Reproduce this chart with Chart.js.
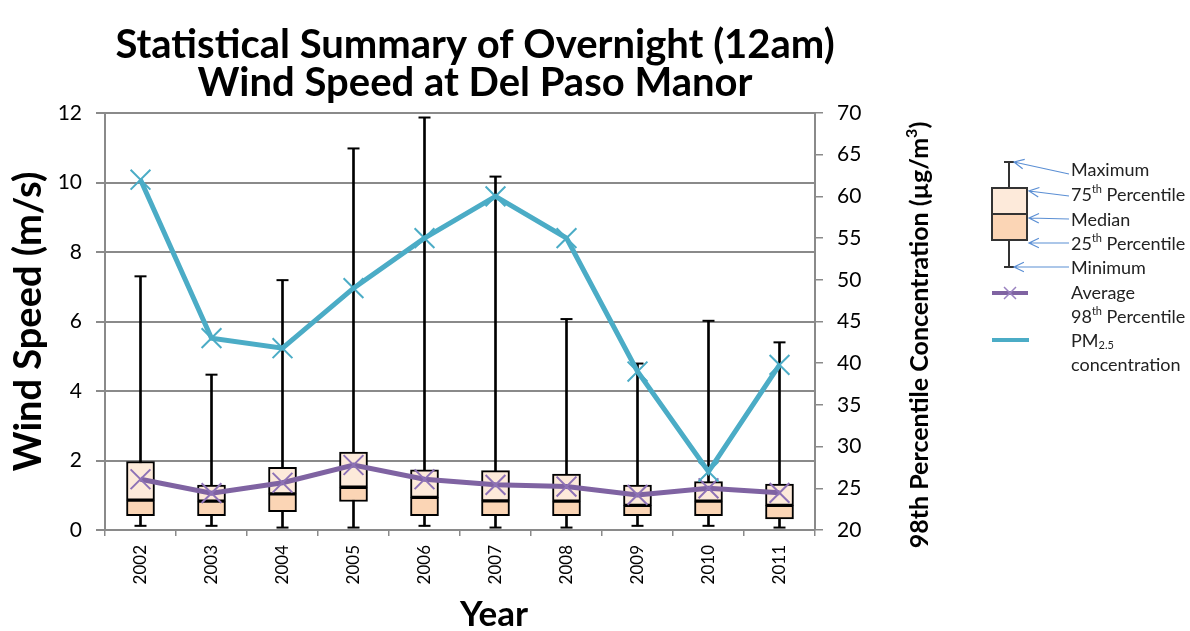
<!DOCTYPE html>
<html>
<head>
<meta charset="utf-8">
<title>Overnight Wind Speed at Del Paso Manor</title>
<script src="https://cdn.jsdelivr.net/npm/chart.js@4.4.1/dist/chart.umd.min.js"></script>
<style>
  html, body { margin: 0; padding: 0; background: #fff; }
  .chart-wrap { width: 1190px; height: 631px; }
</style>
</head>
<body>
<div class="chart-wrap"><canvas id="wind-chart" width="1190" height="631"></canvas></div>
<script>
// values
const years = ['2002', '2003', '2004', '2005', '2006', '2007', '2008', '2009', '2010', '2011'];
const windMin = [0.12, 0.12, 0.07, 0.07, 0.12, 0.07, 0.07, 0.12, 0.12, 0.07];
const windQ1 = [0.41, 0.41, 0.53, 0.82, 0.41, 0.41, 0.41, 0.41, 0.41, 0.32];
const windMedian = [0.86, 0.83, 1.04, 1.23, 0.94, 0.84, 0.83, 0.71, 0.83, 0.71];
const windQ3 = [1.97, 1.29, 1.80, 2.24, 1.73, 1.71, 1.61, 1.29, 1.39, 1.32];
const windMax = [7.30, 4.47, 7.19, 10.98, 11.87, 10.17, 6.07, 4.79, 6.02, 5.40];
const windAvg = [1.46, 1.06, 1.36, 1.87, 1.46, 1.30, 1.25, 1.01, 1.20, 1.07];
const pm25 = [62.0, 43.0, 41.8, 49.0, 55.0, 60.0, 55.0, 39.0, 27.0, 39.8];

const FONT = 'Lato, "Open Sans", sans-serif';
const GRID = '#8a8a8a';
const PURPLE = '#7f63a2';
const TEAL = '#4bacc6';

// draws text with sup/sub pieces, left aligned
function drawRich(ctx, x, y, parts, size, weight) {
  let cx = x;
  parts.forEach(([txt, kind]) => {
    const s = kind ? Math.round(size * 0.62) : size;
    const dy = kind === 'sup' ? -size * 0.32 : kind === 'sub' ? size * 0.22 : 0;
    ctx.font = `${weight || 'normal'} ${s}px ${FONT}`;
    ctx.fillText(txt, cx, y + dy);
    cx += ctx.measureText(txt).width;
  });
  return cx - x;
}

function richWidth(ctx, parts, size, weight) {
  let w = 0;
  parts.forEach(([txt, kind]) => {
    ctx.font = `${weight || 'normal'} ${kind ? Math.round(size * 0.62) : size}px ${FONT}`;
    w += ctx.measureText(txt).width;
  });
  return w;
}

function arrow(ctx, x1, y1, x2, y2) {
  const a = Math.atan2(y2 - y1, x2 - x1);
  ctx.beginPath();
  ctx.moveTo(x1, y1);
  ctx.lineTo(x2, y2);
  ctx.moveTo(x2 - 11 * Math.cos(a - 0.45), y2 - 11 * Math.sin(a - 0.45));
  ctx.lineTo(x2, y2);
  ctx.lineTo(x2 - 11 * Math.cos(a + 0.45), y2 - 11 * Math.sin(a + 0.45));
  ctx.stroke();
}

const extras = {
  id: 'extras',
  afterDraw(chart) {
    const ctx = chart.ctx;
    ctx.save();
    ctx.fillStyle = '#000';
    ctx.textBaseline = 'middle';

    // x axis title
    ctx.textAlign = 'center';
    ctx.font = `bold 35px ${FONT}`;
    ctx.fillText('Year', 494, 615);

    // right axis title, reading bottom to top
    ctx.save();
    ctx.translate(920, 335);
    ctx.rotate(-Math.PI / 2);
    ctx.textAlign = 'left';
    const rt = [['98th Percentile Concentration (µg/m'], ['3', 'sup'], [')']];
    const w = richWidth(ctx, rt, 25, 'bold');
    drawRich(ctx, -w / 2, 0, rt, 25, 'bold');
    ctx.restore();

    // legend: box glyph
    const gx = 1009;
    ctx.strokeStyle = '#333';
    ctx.lineWidth = 2;
    ctx.beginPath();
    ctx.moveTo(gx, 162); ctx.lineTo(gx, 267);
    ctx.moveTo(gx - 5, 162); ctx.lineTo(gx + 5, 162);
    ctx.moveTo(gx - 5, 267); ctx.lineTo(gx + 5, 267);
    ctx.stroke();
    ctx.fillStyle = '#fdeada';
    ctx.fillRect(992, 188, 35, 26);
    ctx.fillStyle = '#fbd5b5';
    ctx.fillRect(992, 214, 35, 26);
    ctx.strokeRect(992, 188, 35, 52);
    ctx.beginPath();
    ctx.moveTo(992, 214); ctx.lineTo(1027, 214);
    ctx.stroke();

    ctx.strokeStyle = '#5b8fd4';
    ctx.lineWidth = 1.2;
    arrow(ctx, 1069, 174, 1014, 162);
    arrow(ctx, 1069, 196, 1029, 191);
    arrow(ctx, 1069, 219, 1029, 218);
    arrow(ctx, 1069, 243, 1029, 243);
    arrow(ctx, 1069, 267, 1014, 267);

    // legend: average and PM lines
    ctx.lineWidth = 4;
    ctx.strokeStyle = PURPLE;
    ctx.beginPath(); ctx.moveTo(992, 293); ctx.lineTo(1028, 293); ctx.stroke();
    ctx.lineWidth = 1.5;
    ctx.strokeStyle = '#9a82c0';
    ctx.beginPath();
    ctx.moveTo(1004, 287); ctx.lineTo(1016, 299);
    ctx.moveTo(1004, 299); ctx.lineTo(1016, 287);
    ctx.stroke();
    ctx.lineWidth = 4;
    ctx.strokeStyle = TEAL;
    ctx.beginPath(); ctx.moveTo(992, 340); ctx.lineTo(1029, 340); ctx.stroke();

    // legend texts
    ctx.fillStyle = '#222';
    ctx.textAlign = 'left';
    const tx = 1071, fs = 18;
    drawRich(ctx, tx, 170, [['Maximum']], fs);
    drawRich(ctx, tx, 195, [['75'], ['th', 'sup'], [' Percentile']], fs);
    drawRich(ctx, tx, 220, [['Median']], fs);
    drawRich(ctx, tx, 244, [['25'], ['th', 'sup'], [' Percentile']], fs);
    drawRich(ctx, tx, 268, [['Minimum']], fs);
    drawRich(ctx, tx, 293, [['Average']], fs);
    drawRich(ctx, tx, 317, [['98'], ['th', 'sup'], [' Percentile']], fs);
    drawRich(ctx, tx, 341, [['PM'], ['2.5', 'sub']], fs);
    drawRich(ctx, tx, 365, [['concentration']], fs);
    ctx.restore();
  }
};

const boxStyle = {
  type: 'bar',
  grouped: false,
  barThickness: 28,
  borderWidth: 2,
  borderColor: '#000',
  borderSkipped: false,
  yAxisID: 'y'
};

const capStyle = {
  type: 'line',
  showLine: false,
  pointStyle: 'line',
  pointRadius: 6,
  pointBorderWidth: 2,
  pointBorderColor: '#000',
  pointBackgroundColor: '#000',
  yAxisID: 'y'
};

new Chart(document.getElementById('wind-chart'), {
  type: 'bar',
  data: {
    labels: years,
    datasets: [
      {
        type: 'line', label: 'PM2.5', data: pm25, yAxisID: 'y1', order: 0,
        borderColor: TEAL, borderWidth: 5, tension: 0,
        pointStyle: 'crossRot', pointRadius: 14, pointBorderWidth: 2,
        pointBorderColor: TEAL, pointBackgroundColor: TEAL
      },
      {
        type: 'line', label: 'Average', data: windAvg, yAxisID: 'y', order: 1,
        borderColor: PURPLE, borderWidth: 5, tension: 0,
        pointStyle: 'crossRot', pointRadius: 14, pointBorderWidth: 2,
        pointBorderColor: '#8e72b6', pointBackgroundColor: '#8e72b6'
      },
      { ...boxStyle, label: 'Q3', order: 2, backgroundColor: '#fdeada',
        data: years.map((_, i) => [windMedian[i], windQ3[i]]) },
      { ...boxStyle, label: 'Q1', order: 3, backgroundColor: '#fbd5b5',
        data: years.map((_, i) => [windQ1[i], windMedian[i]]) },
      { ...capStyle, label: 'Max', order: 4, data: windMax },
      { ...capStyle, label: 'Min', order: 4, data: windMin },
      {
        type: 'bar', label: 'Range', order: 5, grouped: false, yAxisID: 'y',
        barThickness: 2, backgroundColor: '#000', borderWidth: 0,
        data: years.map((_, i) => [windMin[i], windMax[i]])
      }
    ]
  },
  options: {
    responsive: false,
    animation: false,
    events: [],
    layout: { padding: { left: 0, right: 240, top: 0, bottom: 0 } },
    plugins: {
      legend: { display: false },
      tooltip: { enabled: false },
      title: {
        display: true,
        text: ['Statistical Summary of Overnight (12am)', 'Wind Speed at Del Paso Manor'],
        color: '#000',
        font: { family: FONT, size: 40, weight: 'bold', lineHeight: 0.95 },
        padding: { top: 26, bottom: 11 }
      }
    },
    scales: {
      x: {
        offset: true,
        grid: { drawOnChartArea: false, offset: true, color: GRID, lineWidth: 1.5, tickLength: 6 },
        border: { color: GRID, width: 2 },
        ticks: { minRotation: 90, maxRotation: 90, autoSkip: false, padding: 9, color: '#000',
          font: { family: FONT, size: 17 } },
        afterFit: s => { s.height = 101; }
      },
      y: {
        position: 'left', min: 0, max: 12,
        ticks: { stepSize: 2, padding: 14, color: '#000', font: { family: FONT, size: 21 } },
        grid: { color: GRID, lineWidth: 2, tickLength: 9 },
        border: { color: GRID, width: 2 },
        title: {
          display: true, text: 'Wind Speed (m/s)', color: '#000',
          font: { family: FONT, size: 38, weight: 'bold', lineHeight: 1 },
          padding: { top: 10, bottom: 0 }
        },
        afterFit: s => { s.width = 105; }
      },
      y1: {
        position: 'right', min: 20, max: 70,
        ticks: { stepSize: 5, padding: 14, color: '#000', font: { family: FONT, size: 21 } },
        grid: { drawOnChartArea: false, color: GRID, lineWidth: 1.5, tickLength: 8 },
        border: { color: GRID, width: 2 },
        afterFit: s => { s.width = 135; }
      }
    }
  },
  plugins: [extras]
});
</script>
</body>
</html>
